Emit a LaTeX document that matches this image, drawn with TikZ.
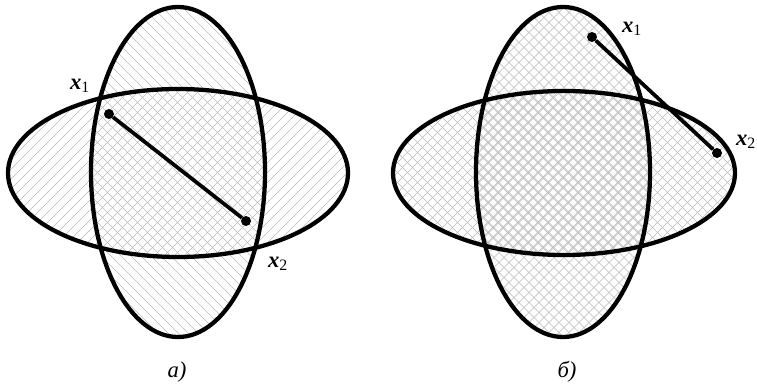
\documentclass[tikz,border=0pt]{standalone}
\usepackage{fontspec}
\setmainfont{Liberation Serif}
\usetikzlibrary{positioning}

\begin{document}
\begin{tikzpicture}[
    x=0.75pt, y=-0.75pt,
    contour/.style={draw=black, line width=3.2pt},
    hatch/.style={gray!55, line width=0.4pt},
    segment/.style={draw=black, line width=2.8pt},
    dot/.style={circle, fill=black, inner sep=0pt, minimum size=7.5pt},
    lbl/.style={font=\fontsize{17}{20}\selectfont\bfseries\itshape, inner sep=0pt},
    caption/.style={font=\fontsize{17}{20}\selectfont\itshape, inner sep=0pt}
]
\useasboundingbox (0,0) rectangle (757,385);

% ---- a) hatching ----
\begin{scope}
  \clip (178,173) ellipse [x radius=127.5pt, y radius=63pt];
  \foreach \c in {0,10,...,1150}
    \draw[hatch] (\c,0) -- ++(-385,385);
\end{scope}
\begin{scope}
  \clip (178,172) ellipse [x radius=65.25pt, y radius=123.75pt];
  \foreach \c in {-385,-375,...,760}
    \draw[hatch] (\c,0) -- ++(385,385);
\end{scope}

% ---- b) hatching ----
\begin{scope}
  \clip (564,173) ellipse [x radius=128.25pt, y radius=61.5pt];
  \foreach \c in {0,10,...,1150}
    \draw[hatch] (\c,0) -- ++(-385,385);
  \foreach \c in {-385,-375,...,760}
    \draw[hatch] (\c,0) -- ++(385,385);
\end{scope}
\begin{scope}
  \clip (563,172) ellipse [x radius=65.25pt, y radius=123.75pt];
  \foreach \c in {1.5,11.5,...,1150}
    \draw[hatch] (\c,0) -- ++(-385,385);
  \foreach \c in {-383.5,-373.5,...,760}
    \draw[hatch] (\c,0) -- ++(385,385);
\end{scope}

% contours
\draw[contour] (178,173) ellipse [x radius=127.5pt, y radius=63pt];
\draw[contour] (178,172) ellipse [x radius=65.25pt, y radius=123.75pt];
\draw[contour] (564,173) ellipse [x radius=128.25pt, y radius=61.5pt];
\draw[contour] (563,172) ellipse [x radius=65.25pt, y radius=123.75pt];

% points and segments
\node[dot] (x1a) at (109,114) {};
\node[dot] (x2a) at (246,221) {};
\draw[segment] (x1a) -- (x2a);
\node[dot] (x1b) at (592,37) {};
\node[dot] (x2b) at (717,153) {};
\draw[segment] (x1b) -- (x2b);

% labels
\node[lbl] (lx1a) at (80,86) {x\textsubscript{\normalfont 1}};
\node[lbl] (lx2a) at (278,264) {x\textsubscript{\normalfont 2}};
\node[lbl] (lx1b) at (632,29) {x\textsubscript{\normalfont 1}};
\node[lbl] (lx2b) at (746,142) {x\textsubscript{\normalfont 2}};

\node[caption] (capa) at (177,372) {а)};
\node[caption] (capb) at (567,372) {б)};
\end{tikzpicture}
\end{document}
